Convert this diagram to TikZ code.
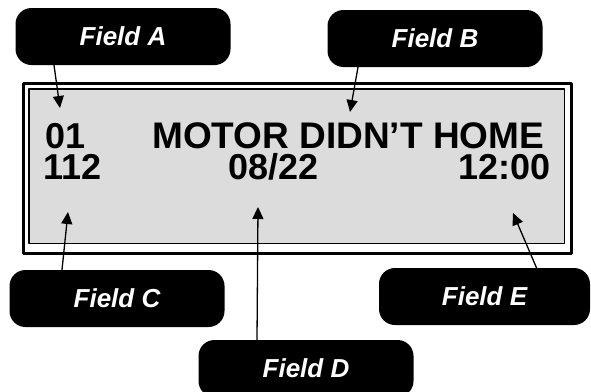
\documentclass[tikz,border=0pt]{standalone}
\usepackage{fontspec}
\setmainfont{Liberation Sans}
\usetikzlibrary{arrows.meta, calc}

\definecolor{lcdgray}{HTML}{DCDCDC}

\tikzset{
  callout/.style={fill=black, text=white, rounded corners=16pt,
    minimum width=215pt, minimum height=57pt, inner sep=0pt,
    font=\fontsize{26}{26}\selectfont\bfseries\itshape},
  lcdtext/.style={anchor=base west, inner sep=0pt,
    text height=26pt, text depth=0pt,
    font=\fontsize{36}{36}\selectfont\bfseries},
  pointer/.style={-{Triangle[length=12pt, width=11pt]}, line width=1.3pt}
}

\begin{document}
\begin{tikzpicture}[x=1pt, y=-1pt, line cap=round, line join=round]

  \useasboundingbox (0,0) rectangle (591,391);
  \clip (0,0) rectangle (591,391);

  %--------------------------
  % LCD display
  %--------------------------
  \draw[line width=3pt] (23.5,83.5) rectangle (571,253);
  \draw[line width=1.8pt, fill=lcdgray] (29,89) rectangle (564.5,243.5);

  \node[lcdtext] (code)  at (45,148)  {01};
  \node[lcdtext, font=\fontsize{37}{37}\selectfont\bfseries] (msg) at (152,148) {MOTOR DIDN’T HOME};
  \node[lcdtext] (count) at (43,179)  {112};
  \node[lcdtext] (date)  at (228,179) {08/22};
  \node[lcdtext] (time)  at (458,179) {12:00};

  %--------------------------
  % Callouts
  %--------------------------
  \node[callout] (fldA) at (123,36.5)  {Field A};
  \node[callout] (fldB) at (435,38.5)  {Field B};
  \node[callout] (fldC) at (117,298.5) {Field C};
  \node[callout] (fldD) at (306,368.5) {Field D};
  \node[callout, minimum width=211pt] (fldE) at (484.5,296.5) {Field E};

  % Arrow tips
  \coordinate (tipA) at (60,108);
  \coordinate (tipB) at (350,112);
  \coordinate (tipC) at (68,212);
  \coordinate (tipD) at (258,207);
  \coordinate (tipE) at (513,213);

  \draw[pointer] ([xshift=-69pt]fldA.south) -- (tipA);
  \draw[pointer] ([xshift=-77pt]fldB.south) -- (tipB);
  \draw[pointer] ([xshift=-55pt]fldC.north) -- (tipC);
  \draw[pointer] ([xshift=-49pt]fldD.north) -- (tipD);
  \draw[pointer] ([xshift=52pt]fldE.north) -- (tipE);

\end{tikzpicture}
\end{document}
